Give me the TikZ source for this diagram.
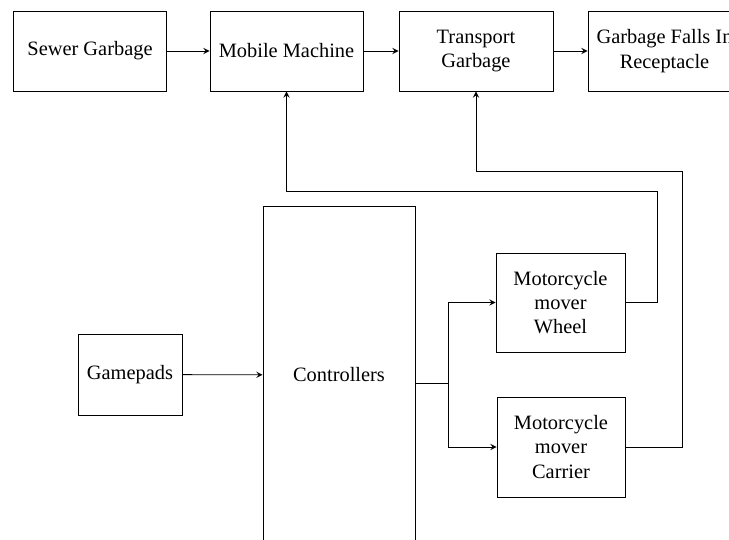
\documentclass[tikz,border=0pt]{standalone}
\usepackage{fontspec}
\setmainfont{Liberation Serif}
\usetikzlibrary{calc}
\tikzset{block/.style={draw,thin,align=center,inner sep=2pt,
		font=\fontsize{10.2}{12.2}\selectfont}}
\tikzset{link/.style={thin,->,>=stealth}}

\begin{document}
\begin{tikzpicture}[x=0.5pt,y=-0.5pt]
	\useasboundingbox (0,0) rectangle (729,540);
	\clip (0,0) rectangle (729,540);

	% top row
	\node[block,minimum width=76.5pt,minimum height=40pt] (sewer) at (90,51) {Sewer Garbage};
	\node[block,minimum width=76.5pt,minimum height=40pt] (mobile) at (286.5,51) {Mobile Machine};
	\node[block,minimum width=77pt,minimum height=40pt] (transport) at (476,51) {Transport\\Garbage};
	\node[block,minimum width=76.5pt,minimum height=40pt] (falls) at (664.5,51) {Garbage Falls In\\Receptacle};

	% control part
	\node[block,minimum width=52pt,minimum height=40.5pt] (gamepads) at (130,374.5) {Gamepads};
	\node[block,minimum width=76pt,minimum height=169pt] (ctrl) at (339,375) {Controllers};
	\node[block,minimum width=64.5pt,minimum height=49.5pt] (wheel) at (560.5,302.5) {Motorcycle\\mover\\Wheel};
	\node[block,minimum width=64pt,minimum height=50pt] (carrier) at (561,447) {Motorcycle\\mover\\Carrier};

	\draw[link] (sewer) -- (mobile);
	\draw[link] (mobile) -- (transport);
	\draw[link] (transport) -- (falls);
	\draw[link] (gamepads) -- (ctrl);

	\coordinate (split) at (448,383);
	\draw (ctrl.east |- split) -- (split);
	\draw[link] (split) |- (wheel.west);
	\draw[link] (split) |- (carrier.west);

	% feedback lines
	\coordinate (wheelturn) at (657,191);
	\coordinate (carrierturn) at (682,171);
	\draw[link] (wheel.east) -| (wheelturn) -| (mobile.south);
	\draw[link] (carrier.east) -| (carrierturn) -| (transport.south);
\end{tikzpicture}
\end{document}
